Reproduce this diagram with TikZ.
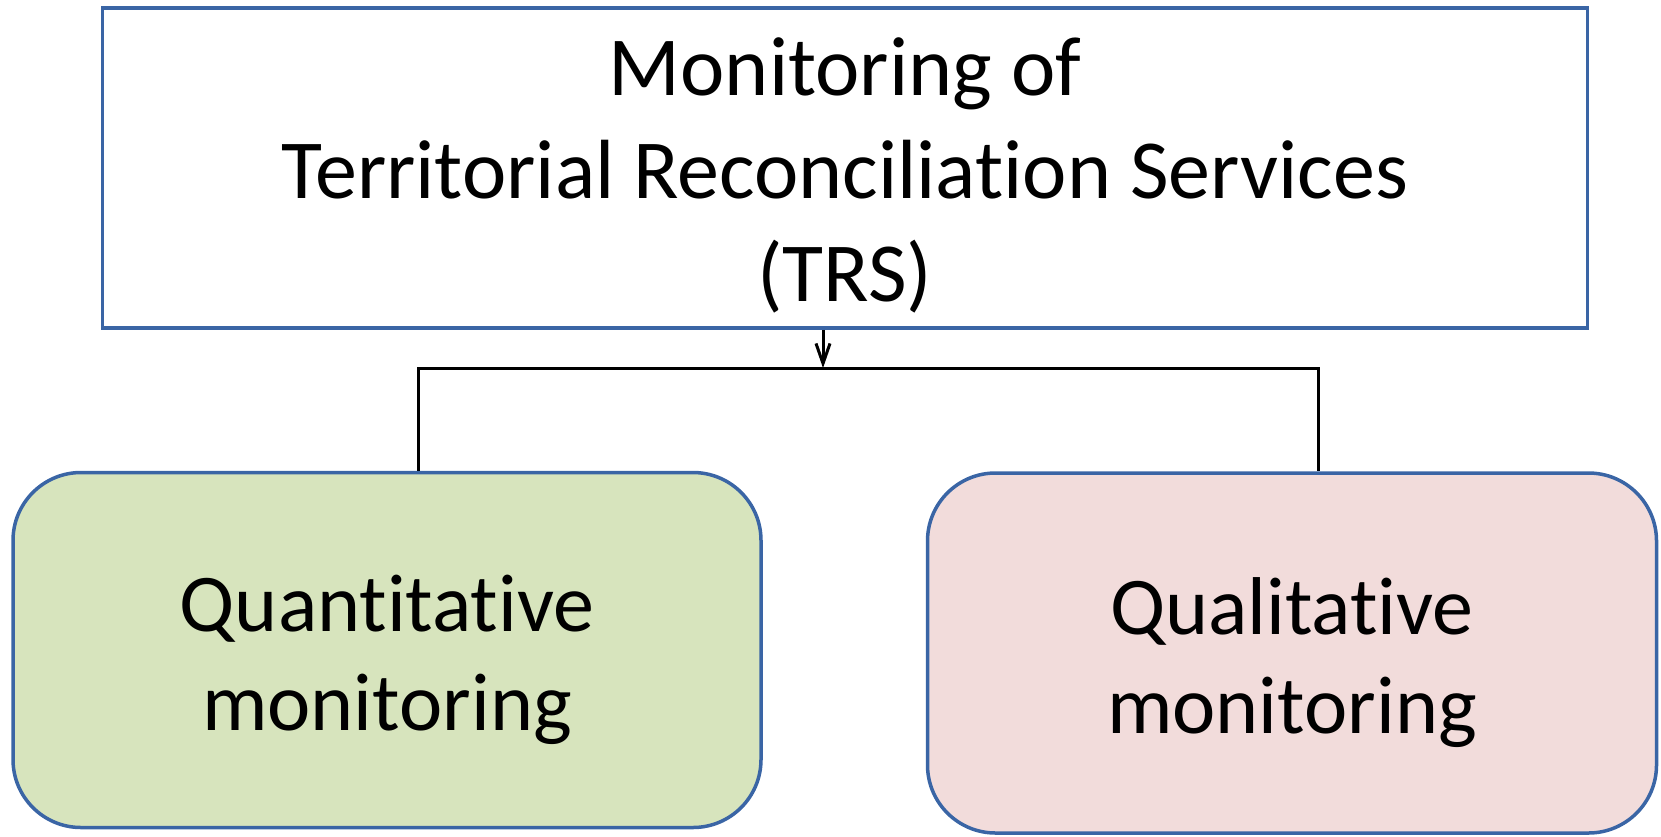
\documentclass[tikz,border=0pt]{standalone}
\usepackage{fontspec}
\setmainfont[RawFeature={-liga}]{Carlito}
\usetikzlibrary{arrows.meta}
\definecolor{boxblue}{HTML}{3A65A5}
\definecolor{qgreen}{HTML}{D7E4BD}
\definecolor{qpink}{HTML}{F2DCDB}
\tikzset{
  topbox/.style={draw=boxblue, line width=3.5pt, fill=white, minimum width=1485pt, minimum height=320pt, inner sep=0pt},
  roundbox/.style={draw=boxblue, line width=3.5pt, rounded corners=68pt, inner sep=0pt},
  toptext/.style={align=center, inner sep=0pt, font=\fontsize{84pt}{103pt}\selectfont},
  boxtext/.style={align=center, inner sep=0pt, font=\fontsize{82pt}{99pt}\selectfont},
  conn/.style={black, line width=3pt},
}
\begin{document}
\begin{tikzpicture}[x=1pt,y=-1pt]
\useasboundingbox (0,0) rectangle (1661,836);
\node[topbox] (top) at (845,168) {};
\node[toptext] (toplabel) at ([yshift=-7pt]top.center) {Monitoring of\\Territorial Reconciliation Services\\(TRS)};
\node[roundbox, fill=qgreen, minimum width=748pt, minimum height=355pt] (quant) at (387,650) {};
\node[boxtext] (quantlabel) at ([yshift=-10pt]quant.center) {Quantitative\\monitoring};
\node[roundbox, fill=qpink, minimum width=729pt, minimum height=360pt] (qual) at (1292,653) {};
\node[boxtext] (quallabel) at ([yshift=-10pt]qual.center) {Qualitative\\monitoring};
\coordinate (j) at (823,368);
\coordinate (bl) at (418,368);
\coordinate (br) at (1318,368);
\draw[conn, -{Straight Barb[length=20pt,width=14pt,line width=3pt]}] (top.south -| j) -- (j);
\draw[conn] (quant.north -| bl) -- (bl) -- (br) -- (qual.north -| br);
\end{tikzpicture}
\end{document}
